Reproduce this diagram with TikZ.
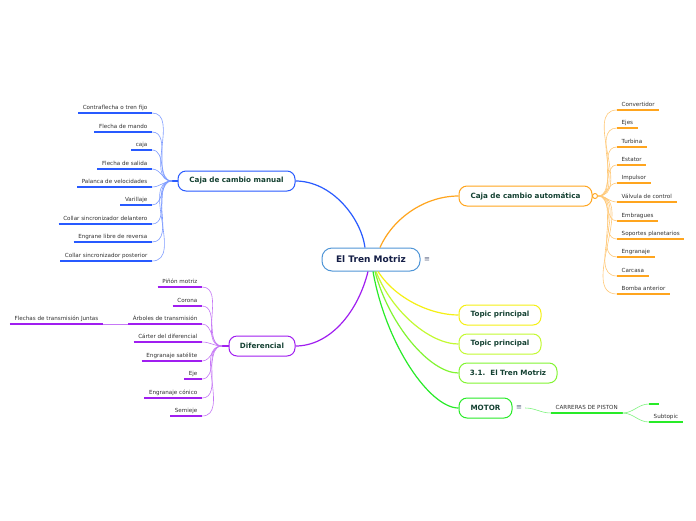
\documentclass[tikz,border=0pt]{standalone}
\usepackage{fontspec}
\setmainfont{DejaVu Sans}
\usetikzlibrary{calc}
\definecolor{cblue}{RGB}{40,90,255}
\definecolor{corange}{RGB}{255,165,30}
\definecolor{cpurple}{RGB}{160,30,240}
\definecolor{cyellow}{RGB}{245,240,20}
\definecolor{cygreen}{RGB}{195,250,50}
\definecolor{clgreen}{RGB}{130,245,50}
\definecolor{cgreen}{RGB}{40,235,40}
\definecolor{cborder}{RGB}{80,150,215}
\definecolor{ctext}{RGB}{20,30,70}
\definecolor{boxtext}{RGB}{20,65,50}
\definecolor{leaftext}{RGB}{50,50,50}
\definecolor{iconcol}{RGB}{90,100,130}
\begin{document}
\begin{tikzpicture}[x=1pt,y=-1pt]
\tikzset{
  topbox/.style={draw, line width=1pt, rounded corners=8pt, fill=white,
    font=\bfseries\fontsize{7.2}{8}\selectfont, text=boxtext,
    minimum height=20pt, inner xsep=0pt},
  leaf/.style={font=\fontsize{5.6}{6}\selectfont, text=leaftext, inner xsep=4.5pt,
    inner ysep=2.4pt, text height=4.1pt, text depth=1.1pt},
  uline/.style={line width=1.8pt},
  branch/.style={line width=0.6pt},
  mainline/.style={line width=1.2pt},
  icon/.style={font=\fontsize{7}{8}\selectfont, text=iconcol, inner sep=0pt}
}
\fill[white] (0,0) rectangle (696,520);
\useasboundingbox (0,0) rectangle (696,520);

% central
\node[draw=cborder, line width=1pt, rounded corners=10pt, fill=white,
  minimum width=98pt, minimum height=23pt,
  font=\bfseries\fontsize{9}{10}\selectfont, text=ctext] (center) at (371,259.5) {El Tren Motriz};
\node[icon] (ic1) at (427,259.5) {≡};

% main boxes
\node[topbox, draw=cblue, minimum width=117pt] (manual) at (236.5,181) {Caja de cambio manual};
\node[topbox, draw=corange, minimum width=133pt] (auto) at (525.5,196) {Caja de cambio automática};
\node[topbox, draw=cpurple, minimum width=66pt] (dif) at (262,346) {Diferencial};
\node[topbox, draw=cyellow, minimum width=82pt] (tp1) at (500,315) {Topic principal};
\node[topbox, draw=cygreen, minimum width=82pt] (tp2) at (500,344) {Topic principal};
\node[topbox, draw=clgreen, minimum width=98pt] (tm) at (508,373) {3.1.\ \ El Tren Motriz};
\node[topbox, draw=cgreen, minimum width=53pt] (motor) at (485.5,408) {MOTOR};
\node[icon] (ic2) at (519,408) {≡};

% main connectors
\draw[mainline, cblue] ($(center.north)+(-6,0)$) .. controls (361,218) and (332,181) .. (manual.east);
\draw[mainline, corange] ($(center.north)+(9,0)$) .. controls (393,218) and (425,196) .. (auto.west);
\draw[mainline, cpurple] ($(center.south)+(-3,0)$) .. controls (358,312) and (330,346) .. (dif.east);
\draw[mainline, cyellow] ($(center.south)+(7,0)$) .. controls (395,298) and (430,315) .. (tp1.west);
\draw[mainline, cygreen] ($(center.south)+(5,0)$) .. controls (392,312) and (430,344) .. (tp2.west);
\draw[mainline, clgreen] ($(center.south)+(4,0)$) .. controls (389,325) and (430,373) .. (tm.west);
\draw[mainline, cgreen] ($(center.south)+(2,0)$) .. controls (386,345) and (430,408) .. (motor.west);

% manual children
\coordinate (mj) at (172,181);
\draw[line width=1.6pt, cblue] (mj) -- (manual.west);
\foreach \n/\y/\t in {1/113/Contraflecha o tren fijo, 2/132/Flecha de mando, 3/150/caja,
  4/169/Flecha de salida, 5/187/Palanca de velocidades, 6/205/Varillaje,
  7/224/Collar sincronizador delantero, 8/242/Engrane libre de reversa, 9/261/Collar sincronizador posterior}{
  \node[leaf, anchor=south east] (m\n) at (152,\y) {\t};
  \draw[branch, cblue!60] (mj) to[out=180,in=0] (m\n.south east);
  \draw[uline, cblue] (m\n.south west) -- (m\n.south east);
}

% automatic children
\coordinate (aj) at (598,196);
\draw[line width=1pt, corange] (auto.east) -- (592.5,196);
\draw[line width=0.9pt, corange] (595,196) circle (2.5);
\foreach \n/\y/\t in {1/110/Convertidor, 2/128/Ejes, 3/147/Turbina, 4/165/Estator,
  5/183/Impulsor, 6/202/Válvula de control, 7/221/Embragues, 8/239/Soportes planetarios,
  9/257/Engranaje, 10/276/Carcasa, 11/294/Bomba anterior}{
  \node[leaf, anchor=south west] (a\n) at (617,\y) {\t};
  \draw[branch, corange!60] (aj) to[out=0,in=180] (a\n.south west);
  \draw[uline, corange] (a\n.south west) -- (a\n.south east);
}

% diferencial children
\coordinate (dj) at (222,346);
\draw[line width=1.6pt, cpurple] (dj) -- (dif.west);
\foreach \n/\y/\t in {1/287/Piñón motriz, 2/306/Corona, 3/324/Árboles de transmisión,
  4/342/Cárter del diferencial, 5/361/Engranaje satélite, 6/379/Eje,
  7/398/Engranaje cónico, 8/416/Semieje}{
  \node[leaf, anchor=south east] (d\n) at (202,\y) {\t};
  \draw[branch, cpurple!60] (dj) to[out=180,in=0] (d\n.south east);
  \draw[uline, cpurple] (d\n.south west) -- (d\n.south east);
}
\node[leaf, anchor=south east] (dx) at (103,324) {Flechas de transmisión Juntas};
\draw[branch, cpurple!60] (d3.south west) -- (dx.south east);
\draw[uline, cpurple] (dx.south west) -- (dx.south east);

% motor children
\node[leaf, anchor=south west] (cp) at (551,413) {CARRERAS DE PISTON};
\draw[branch, cgreen!60] (ic2.east) ++(3,0) coordinate (mo) to[out=0,in=180] (cp.south west);
\draw[uline, cgreen] (cp.south west) -- (cp.south east);
\node[leaf, anchor=south west, minimum width=10pt] (s1) at (649,404) {};
\node[leaf, anchor=south west] (s2) at (649,422) {Subtopic};
\draw[branch, cgreen!60] (cp.south east) to[out=0,in=180] (s1.south west);
\draw[branch, cgreen!60] (cp.south east) to[out=0,in=180] (s2.south west);
\draw[uline, cgreen] (s1.south west) -- (s1.south east);
\draw[uline, cgreen] (s2.south west) -- (s2.south east);
\end{tikzpicture}
\end{document}
